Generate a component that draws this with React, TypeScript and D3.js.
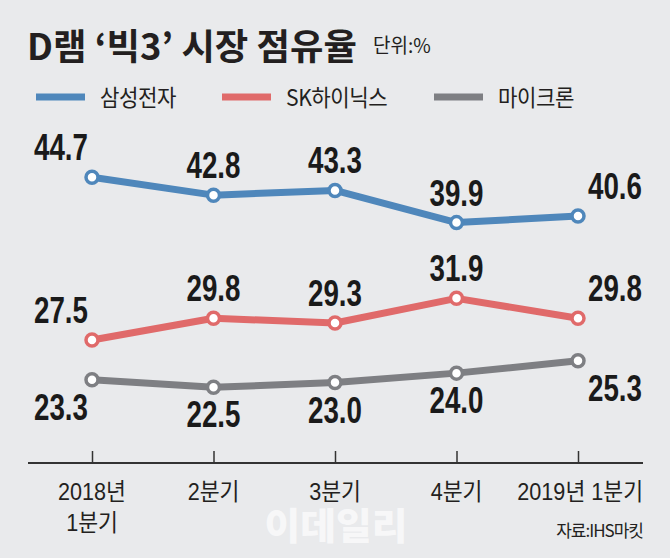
import React, { useEffect, useRef } from "react";
import * as d3 from "d3";

const categories = ["2018년|1분기", "2분기", "3분기", "4분기", "2019년 1분기"];
const seriesNames = ["삼성전자", "SK하이닉스", "마이크론"];
const samsung = [44.7, 42.8, 43.3, 39.9, 40.6];
const skHynix = [27.5, 29.8, 29.3, 31.9, 29.8];
const micron = [23.3, 22.5, 23.0, 24.0, 25.3];

const colors = ["#4f87bb", "#e06a6a", "#7e7f83"];
const labelSide = ["above", "above", "below"];

const W = 670;
const H = 558;
const NUM_FONT = "'Liberation Sans', Arial, 'Noto Sans CJK KR', sans-serif";
const KR_FONT = "'Noto Sans CJK KR', 'Liberation Sans', sans-serif";

const App = () => {
  const ref = useRef<SVGSVGElement>(null);

  useEffect(() => {
    const svg = d3.select(ref.current);
    svg.selectAll("*").remove();

    svg.append("rect").attr("width", W).attr("height", H).attr("fill", "#e9eaec");

    const x = d3.scalePoint().domain(categories).range([92, 578]);
    const y = d3.scaleLinear().domain([20, 50]).range([411, 127]);

    // title
    svg
      .append("text")
      .attr("transform", "translate(27,60) scale(1.01,1)")
      .attr("font-family", KR_FONT)
      .attr("font-size", 36)
      .attr("font-weight", 600)
      .attr("fill", "#231f20")
      .text("D램 ‘빅3’ 시장 점유율");
    svg
      .append("text")
      .attr("transform", "translate(373,53) scale(0.95,1)")
      .attr("font-family", KR_FONT)
      .attr("font-size", 20)
      .attr("fill", "#231f20")
      .text("단위:%");

    // legend
    const legendX = [36, 222, 434];
    seriesNames.forEach((name, i) => {
      svg
        .append("line")
        .attr("x1", legendX[i])
        .attr("x2", legendX[i] + 49)
        .attr("y1", 97)
        .attr("y2", 97)
        .attr("stroke", colors[i])
        .attr("stroke-width", 7);
      svg
        .append("text")
        .attr("transform", `translate(${legendX[i] + 64},106) scale(0.92,1)`)
        .attr("font-family", KR_FONT)
        .attr("font-size", 23)
        .attr("letter-spacing", -0.5)
        .attr("fill", "#231f20")
        .text(name);
    });

    // axis
    const axis = svg
      .append("g")
      .attr("transform", "translate(0,463)")
      .call(d3.axisBottom(x).tickSize(-12).tickSizeOuter(0).tickFormat(() => ""));
    axis.select(".domain").remove();
    axis.selectAll(".tick line").attr("stroke", "#333").attr("stroke-width", 1.5);
    axis
      .append("line")
      .attr("x1", 28)
      .attr("x2", 643)
      .attr("stroke", "#333")
      .attr("stroke-width", 2);

    // watermark
    svg
      .append("text")
      .attr("transform", "translate(336,540) scale(1.05,1)")
      .attr("text-anchor", "middle")
      .attr("font-family", KR_FONT)
      .attr("font-size", 37)
      .attr("font-weight", 900)
      .attr("fill", "#ffffff")
      .attr("opacity", 0.65)
      .text("이데일리");

    categories.forEach((c, i) => {
      const isLast = i === categories.length - 1;
      const t = svg
        .append("text")
        .attr("transform", `translate(${isLast ? 643 : x(c)},500) scale(0.9,1)`)
        .attr("text-anchor", isLast ? "end" : "middle")
        .attr("font-family", NUM_FONT)
        .attr("font-size", 24)
        .attr("fill", "#231f20");
      c.split("|").forEach((p, j) => {
        t.append("tspan")
          .attr("x", 0)
          .attr("dy", j === 0 ? 0 : 31)
          .text(p);
      });
    });

    svg
      .append("text")
      .attr("x", 643)
      .attr("y", 537)
      .attr("text-anchor", "end")
      .attr("font-family", KR_FONT)
      .attr("font-size", 17)
      .attr("letter-spacing", -1)
      .attr("fill", "#231f20")
      .text("자료:IHS마킷");

    // lines
    const line = d3
      .line<number>()
      .x((d, i) => x(categories[i]) as number)
      .y((d) => y(d));

    [samsung, skHynix, micron].forEach((vals, s) => {
      svg
        .append("path")
        .datum(vals)
        .attr("d", line)
        .attr("fill", "none")
        .attr("stroke", colors[s])
        .attr("stroke-width", 7)
        .attr("stroke-linejoin", "round");

      svg
        .selectAll(null)
        .data(vals)
        .enter()
        .append("circle")
        .attr("cx", (d, i) => x(categories[i]) as number)
        .attr("cy", (d) => y(d))
        .attr("r", 6)
        .attr("fill", "#fff")
        .attr("stroke", colors[s])
        .attr("stroke-width", 3.5);

      const last = vals.length - 1;
      svg
        .selectAll(null)
        .data(vals)
        .enter()
        .append("text")
        .attr("transform", (d, i) => {
          const px = x(categories[i]) as number;
          const lx = i === 0 ? px - 4 : i === last ? px + 10 : px;
          const ly = y(d) + (labelSide[s] === "above" ? -17 : 40);
          return `translate(${lx},${ly}) scale(0.75,1)`;
        })
        .attr("text-anchor", (d, i) => (i === 0 ? "end" : i === last ? "start" : "middle"))
        .attr("font-family", NUM_FONT)
        .attr("font-size", 37)
        .attr("font-weight", 700)
        .attr("fill", "#1a1a1a")
        .text((d) => d.toFixed(1));
    });
  }, []);

  return (
    <svg
      ref={ref}
      width={W}
      height={H}
      style={{ position: "absolute", left: 0, top: 0, display: "block" }}
    />
  );
};

export default App;
